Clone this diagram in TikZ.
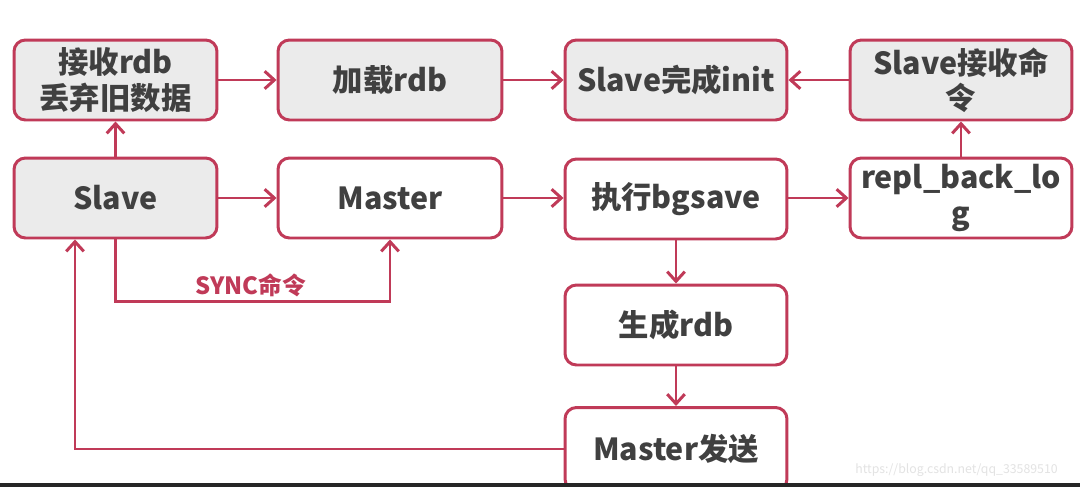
\documentclass[tikz,border=0pt]{standalone}
\usepackage{fontspec}
\setmainfont{Noto Sans CJK SC}
\usetikzlibrary{arrows.meta}
\definecolor{edge}{RGB}{192,58,88}
\definecolor{gfill}{RGB}{235,235,235}
\definecolor{txt}{RGB}{64,64,64}
\tikzset{
  box/.style={draw=edge, line width=1.7pt, rounded corners=6.5pt, fill=white,
    text=txt, font=\fontsize{17.3}{20}\selectfont\bfseries, align=center,
    inner sep=2pt, minimum height=1.6cm},
  gbox/.style={box, fill=gfill},
  w1/.style={minimum width=4.06cm},
  w2/.style={minimum width=4.48cm},
  w3/.style={minimum width=4.44cm},
  arr/.style={draw=edge, line width=1.7pt, -{Straight Barb[length=5.5pt,width=10pt]}},
  synclbl/.style={text=edge, font=\fontsize{13.5}{15}\selectfont\bfseries, inner sep=1pt},
  wm/.style={text=black!11, font=\fontsize{7}{8}\selectfont, inner sep=0pt}
}
\begin{document}
\begin{tikzpicture}[x=0.02cm, y=-0.02cm]
\useasboundingbox (0,0) rectangle (1080,487);
\fill[white] (0,0) rectangle (1080,487);
\begin{scope}
\clip (0,0) rectangle (1080,487);
% row 1
\node[gbox, w1] (recv) at (115.5,80) {接收rdb\\丢弃旧数据};
\node[gbox, w2] (load) at (390,80) {加载rdb};
\node[gbox, w3] (init) at (676,80) {Slave完成init};
\node[gbox, w3] (cmd) at (961,80) {Slave接收命\\令};
% row 2
\node[gbox, w1] (slave) at (115.5,198) {Slave};
\node[box, w2] (master) at (390,198) {Master};
\node[box, w3] (bgsave) at (676,199) {执行bgsave};
\node[box, w3] (repl) at (961,198) {repl\_back\_lo\\g};
% row 3, 4
\node[box, w3] (gen) at (676,325) {生成rdb};
\node[box, w3, minimum height=1.66cm] (send) at (676,449) {Master发送};
\end{scope}
\coordinate (lp) at (75,0);
% connectors
\draw[arr] (recv) -- (load);
\draw[arr] (load) -- (init);
\draw[arr] (cmd) -- (init);
\draw[arr] (slave) -- (recv);
\draw[arr] (slave) -- (master);
\draw[arr] (master.east) -- (bgsave.west |- master.east);
\draw[arr] (bgsave.east |- repl.west) -- (repl.west);
\draw[arr] (repl) -- (cmd);
\draw[arr] (bgsave) -- (gen);
\draw[arr] (gen) -- (send);
\draw[arr] (send.west) -| (slave.south -| lp);
\draw[arr] (slave.south) -- ++(0,62) -| (master.south);
\node[synclbl, anchor=south] (sync) at (251,299) {SYNC命令};
% watermark and bottom bar
\node[wm, anchor=east] (mark) at (1058,470) {https://blog.csdn.net/qq\_33589510};
\fill[black!85] (0,483) rectangle (1080,487);
\end{tikzpicture}
\end{document}
